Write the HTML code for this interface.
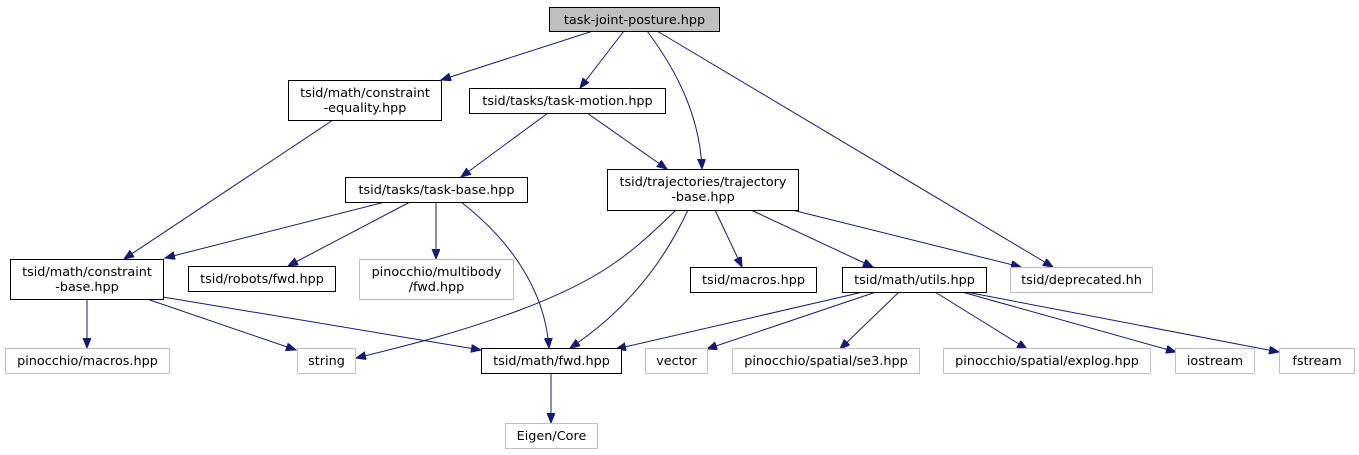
<!DOCTYPE html>
<html><head><meta charset="utf-8"><style>
html,body{margin:0;padding:0;background:#fff;}
svg{display:block;}
text{font-family:"DejaVu Sans","Liberation Sans",sans-serif;font-size:12.8px;fill:#000;text-anchor:middle;}
.b{fill:#fff;stroke:#000;stroke-width:1;}
.g{fill:#fff;stroke:#bfbfbf;stroke-width:1;}
.e{fill:none;stroke:#191970;stroke-width:1;}
</style></head><body>
<svg width="1359" height="455" viewBox="0 0 1359 455" xmlns="http://www.w3.org/2000/svg">
<defs>
<marker id="a" markerUnits="userSpaceOnUse" markerWidth="11" markerHeight="10" refX="10" refY="4" orient="auto">
<path d="M0,0 L10,4 L0,8 Z" fill="#191970" stroke="#191970"/>
</marker>
</defs>
<g marker-end="url(#a)">
<path class="e" d="M593,31 L441,80"/>
<path class="e" d="M624,31 L580,88"/>
<path class="e" d="M647,31 C680,75 700,120 702,169"/>
<path class="e" d="M657,31 L1053,267"/>
<path class="e" d="M333,120 L124,259"/>
<path class="e" d="M548,113 L461,177"/>
<path class="e" d="M587,113 L667,169"/>
<path class="e" d="M385,202 L165,258"/>
<path class="e" d="M410,202 L288,266"/>
<path class="e" d="M436,202 L436,259"/>
<path class="e" d="M461,202 C510,240 545,290 549,348"/>
<path class="e" d="M676,210 C630,255 600,280 520,310 C460,332 410,345 356,358"/>
<path class="e" d="M688,210 C660,270 620,315 570,348"/>
<path class="e" d="M715,210 L742,267"/>
<path class="e" d="M751,210 L873,267"/>
<path class="e" d="M792,210 L1021,267"/>
<path class="e" d="M87,299 L87,348"/>
<path class="e" d="M147,299 L296,350"/>
<path class="e" d="M163,297 L481,350"/>
<path class="e" d="M863,292 L616,349"/>
<path class="e" d="M876,292 L707,349"/>
<path class="e" d="M899,292 L840,349"/>
<path class="e" d="M935,292 L1027,349"/>
<path class="e" d="M962,292 L1176,352"/>
<path class="e" d="M966,292 L1279,352"/>
<path class="e" d="M551,374 L551,423"/>
</g>

<rect x="549.5" y="7.5" width="170" height="24" fill="#bfbfbf" stroke="#000"/>
<text x="634.5" y="24">task-joint-posture.hpp</text>

<rect class="b" x="288.5" y="80.5" width="153" height="40"/>
<text x="365" y="97">tsid/math/constraint</text><text x="365" y="112">-equality.hpp</text>

<rect class="b" x="469.5" y="88.5" width="196" height="25"/>
<text x="567.5" y="105">tsid/tasks/task-motion.hpp</text>

<rect class="b" x="345.5" y="177.5" width="182" height="25"/>
<text x="436.5" y="194">tsid/tasks/task-base.hpp</text>

<rect class="b" x="607.5" y="169.5" width="191" height="41"/>
<text x="703" y="186">tsid/trajectories/trajectory</text><text x="703" y="201">-base.hpp</text>

<rect class="b" x="10.5" y="259.5" width="153" height="40"/>
<text x="87" y="276">tsid/math/constraint</text><text x="87" y="291">-base.hpp</text>

<rect class="b" x="188.5" y="266.5" width="147" height="25"/>
<text x="262" y="283">tsid/robots/fwd.hpp</text>

<rect class="g" x="359.5" y="259.5" width="154" height="40"/>
<text x="436.5" y="276">pinocchio/multibody</text><text x="436.5" y="291">/fwd.hpp</text>

<rect class="b" x="690.5" y="267.5" width="126" height="25"/>
<text x="753.5" y="284">tsid/macros.hpp</text>

<rect class="b" x="842.5" y="267.5" width="144" height="25"/>
<text x="914.5" y="284">tsid/math/utils.hpp</text>

<rect class="g" x="1010.5" y="267.5" width="142" height="25"/>
<text x="1081.5" y="284">tsid/deprecated.hh</text>

<rect class="g" x="5.5" y="348.5" width="164" height="25"/>
<text x="87.5" y="365">pinocchio/macros.hpp</text>

<rect class="g" x="297.5" y="348.5" width="58" height="25"/>
<text x="326.5" y="365">string</text>

<rect class="b" x="481.5" y="348.5" width="140" height="25"/>
<text x="551.5" y="365">tsid/math/fwd.hpp</text>

<rect class="g" x="645.5" y="348.5" width="62" height="25"/>
<text x="676.5" y="365">vector</text>

<rect class="g" x="732.5" y="348.5" width="187" height="25"/>
<text x="826" y="365">pinocchio/spatial/se3.hpp</text>

<rect class="g" x="943.5" y="348.5" width="207" height="25"/>
<text x="1047" y="365">pinocchio/spatial/explog.hpp</text>

<rect class="g" x="1175.5" y="348.5" width="79" height="25"/>
<text x="1215" y="365">iostream</text>

<rect class="g" x="1279.5" y="348.5" width="75" height="25"/>
<text x="1317" y="365">fstream</text>

<rect class="g" x="505.5" y="423.5" width="92" height="25"/>
<text x="551.5" y="440">Eigen/Core</text>
</svg>
</body></html>
